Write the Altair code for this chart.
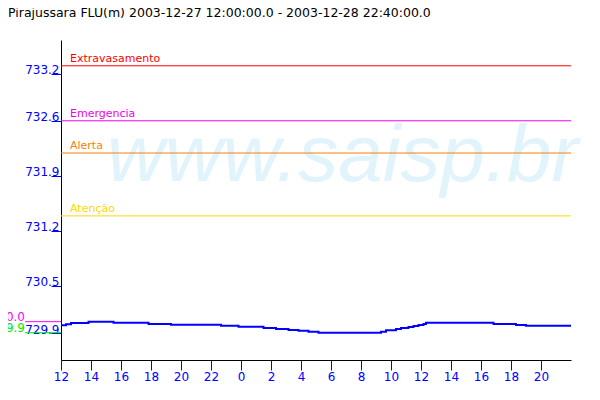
import altair as alt
import pandas as pd

TITLE = "Pirajussara FLU(m) 2003-12-27 12:00:00.0 - 2003-12-28 22:40:00.0"
WATERMARK = "www.saisp.br"

# water level readings (step changes)
times = [
    "2003-12-27T12:00:00", "2003-12-27T12:20:00", "2003-12-27T12:40:00",
    "2003-12-27T13:50:00", "2003-12-27T15:30:00", "2003-12-27T17:50:00",
    "2003-12-27T19:20:00", "2003-12-27T22:40:00", "2003-12-27T23:50:00",
    "2003-12-28T01:30:00", "2003-12-28T02:20:00", "2003-12-28T03:10:00",
    "2003-12-28T03:50:00", "2003-12-28T04:30:00", "2003-12-28T05:10:00",
    "2003-12-28T09:20:00", "2003-12-28T09:40:00", "2003-12-28T10:20:00",
    "2003-12-28T10:40:00", "2003-12-28T11:10:00", "2003-12-28T11:30:00",
    "2003-12-28T11:50:00", "2003-12-28T12:10:00", "2003-12-28T12:20:00",
    "2003-12-28T16:50:00", "2003-12-28T18:20:00", "2003-12-28T19:00:00",
    "2003-12-28T22:00:00",
]
levels = [
    730.000, 730.010, 730.027,
    730.044, 730.031, 730.015,
    730.006, 729.993, 729.980,
    729.964, 729.951, 729.938,
    729.929, 729.917, 729.904,
    729.917, 729.934, 729.951,
    729.964, 729.976, 729.989,
    730.002, 730.015, 730.031,
    730.015, 730.002, 729.993,
    729.993,
]

alert_names = ["Extravasamento", "Emergencia", "Alerta", "Atenção"]
alert_levels = [733.30, 732.60, 732.19, 731.39]
alert_colors = ["#ff0000", "#ee00ee", "#f5820a", "#ffd700"]

y_tick_values = [729.9, 730.5, 731.2, 731.9, 732.6, 733.2]
# (day, hour) of x ticks
x_tick_values = [(27, 12), (27, 14), (27, 16), (27, 18), (27, 20), (27, 22),
                 (28, 0), (28, 2), (28, 4), (28, 6), (28, 8), (28, 10),
                 (28, 12), (28, 14), (28, 16), (28, 18), (28, 20)]
x_domain = [(27, 12), (28, 22)]
y_domain = [729.5565, 733.628]

BLUE = "#0000ff"
FONT = "DejaVu Sans"

df = pd.DataFrame({"time": times, "level": levels})
alerts = pd.DataFrame({"name": alert_names, "level": alert_levels, "color": alert_colors})
vmax, vmin = max(levels), min(levels)
extremes = pd.DataFrame({
    "level": [vmax, vmin],
    "label": [f"{vmax:.1f}", f"{vmin:.1f}"],
    "color": ["#ff00ff", "#00ee00"],
})

yscale = alt.Scale(domain=y_domain, zero=False, nice=False)
yaxis = alt.Axis(
    values=y_tick_values, format=".1f", title=None, grid=False,
    domainColor="black", tickColor=BLUE, tickSize=10,
    labelColor=BLUE, labelFont=FONT, labelFontSize=12,
    labelAlign="right", labelBaseline="alphabetic", labelPadding=-8,
)


def Y(field):
    return alt.Y(field, type="quantitative", scale=yscale, axis=yaxis)


def dt(d, h):
    return alt.DateTime(year=2003, month=12, date=d, hours=h)


xscale = alt.Scale(domain=[dt(*p) for p in x_domain])
xaxis = alt.Axis(
    values=[dt(*p) for p in x_tick_values], format="%-H", title=None, grid=False,
    domainColor="black", tickColor=BLUE, tickSize=10,
    labelColor=BLUE, labelFont=FONT, labelFontSize=12, labelPadding=1,
    labelFlush=False, labelOverlap=False,
)

watermark = alt.Chart(pd.DataFrame({"t": [WATERMARK]})).mark_text(
    align="left", baseline="alphabetic", font="Liberation Sans",
    fontStyle="italic", fontSize=80, color="#e1f4fc",
).encode(x=alt.value(46), y=alt.value(141), text="t:N")

alert_rules = alt.Chart(alerts).mark_rule(strokeWidth=1).encode(
    y=Y("level"), color=alt.Color("color:N", scale=None)
)
alert_text = alt.Chart(alerts).mark_text(
    align="left", baseline="alphabetic", dy=-4, font=FONT, fontSize=11
).encode(x=alt.value(9), y=Y("level"), text="name:N",
         color=alt.Color("color:N", scale=None))

ext_rules = alt.Chart(extremes).mark_rule(strokeWidth=1).encode(
    x=alt.value(-36), x2=alt.value(0), y=Y("level"),
    color=alt.Color("color:N", scale=None)
)
ext_text = alt.Chart(extremes).mark_text(
    align="right", baseline="alphabetic", dy=-1, font=FONT, fontSize=12
).encode(x=alt.value(-36), y=Y("level"), text="label:N",
         color=alt.Color("color:N", scale=None))

line = alt.Chart(df).mark_line(
    interpolate="step-after", color=BLUE, strokeWidth=2
).encode(
    x=alt.X("time:T", scale=xscale, axis=xaxis),
    y=Y("level"),
)

title = alt.Chart(pd.DataFrame({"t": [TITLE]})).mark_text(
    align="left", baseline="alphabetic", font=FONT, fontSize=12.5, color="black"
).encode(x=alt.value(-53), y=alt.value(-23), text="t:N")

chart = alt.layer(
    watermark, alert_rules, alert_text, ext_rules, ext_text, line, title
).properties(
    width=510, height=320,
    autosize=alt.AutoSizeParams(type="none"),
    padding={"left": 53, "top": 32, "right": 21, "bottom": 32},
).configure_view(stroke="transparent")

chart.save("out.html", embed_options={"renderer": "svg", "actions": False})
